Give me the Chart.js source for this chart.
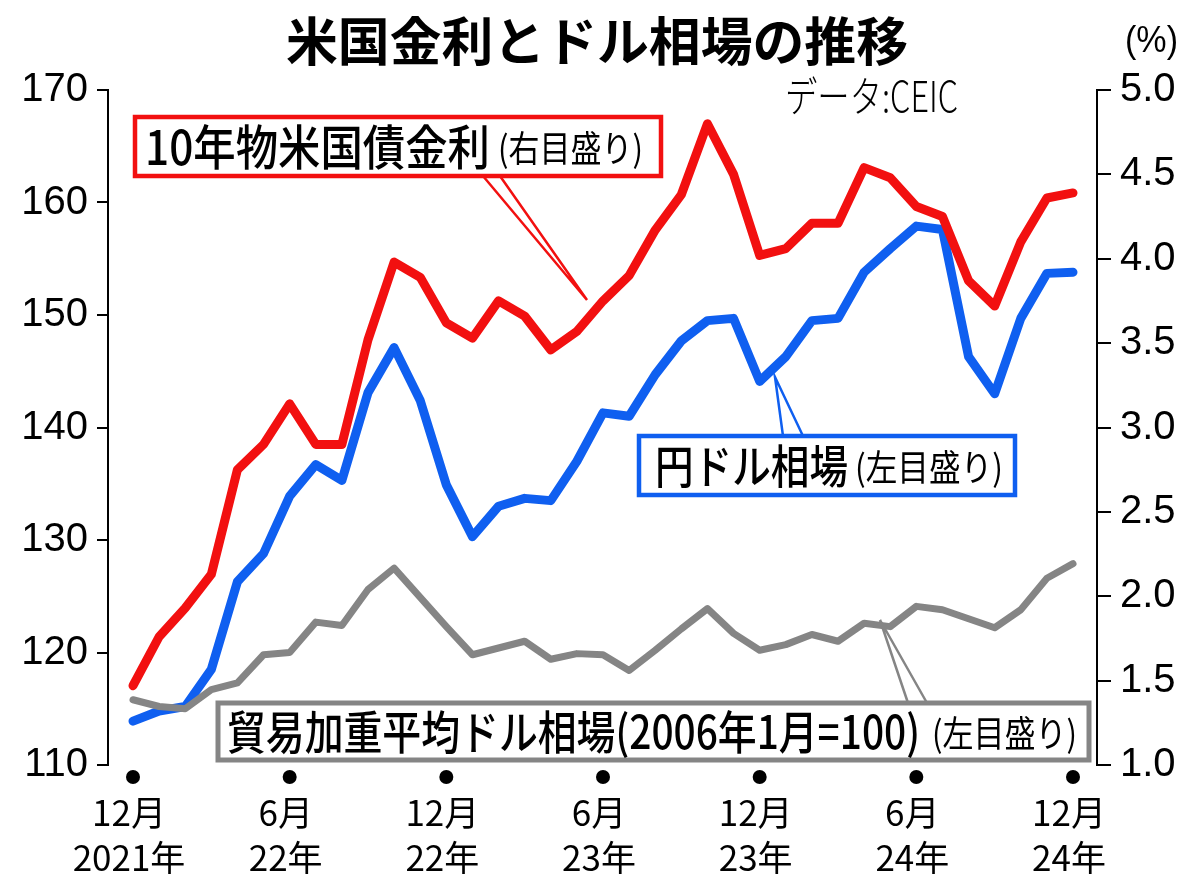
<!DOCTYPE html>
<html><head><meta charset="utf-8">
<script src="https://cdn.jsdelivr.net/npm/chart.js@4.4.1/dist/chart.umd.min.js"></script>
<style>html,body{margin:0;padding:0;background:#fff;}#wrap{width:1200px;height:888px;}</style>
</head><body><div id="wrap"><canvas id="c" width="1200" height="888"></canvas></div>
<script>
const categories = ['2021-12','2022-01','2022-02','2022-03','2022-04','2022-05','2022-06','2022-07','2022-08','2022-09','2022-10','2022-11','2022-12','2023-01','2023-02','2023-03','2023-04','2023-05','2023-06','2023-07','2023-08','2023-09','2023-10','2023-11','2023-12','2024-01','2024-02','2024-03','2024-04','2024-05','2024-06','2024-07','2024-08','2024-09','2024-10','2024-11','2024-12'];
const treasury10y = [1.47,1.76,1.93,2.13,2.75,2.90,3.14,2.90,2.90,3.52,3.98,3.89,3.62,3.53,3.75,3.66,3.46,3.57,3.75,3.90,4.17,4.38,4.80,4.50,4.02,4.06,4.21,4.21,4.54,4.48,4.31,4.25,3.87,3.72,4.10,4.36,4.39];
const usdJpy = [113.9,114.8,115.2,118.5,126.3,128.8,133.9,136.7,135.3,143.1,147.1,142.4,134.9,130.3,133.0,133.7,133.5,137.0,141.3,141.0,144.7,147.7,149.5,149.7,144.1,146.3,149.5,149.7,153.8,155.9,157.9,157.6,146.3,143.0,149.7,153.7,153.8];
const tradeWeightedUsd = [115.8,115.2,115.0,116.7,117.3,119.8,120.0,122.7,122.4,125.6,127.5,124.9,122.3,119.8,120.4,121.0,119.4,119.9,119.8,118.4,120.2,122.1,123.9,121.7,120.2,120.7,121.6,121.0,122.6,122.3,124.1,123.8,123.0,122.2,123.8,126.6,127.9];
const tickIndex = [0,6,12,18,24,30,36];
const tickMonths = ['12月','6月','12月','6月','12月','6月','12月'];
const tickYears = ['2021年','22年','22年','23年','23年','24年','24年'];
const leftTicks = [110,120,130,140,150,160,170];
const rightTicks = [1.0,1.5,2.0,2.5,3.0,3.5,4.0,4.5,5.0];

const RED = '#f21010', BLUE = '#0f5ff0', GRAY = '#858585';
const CJK = "'Noto Sans CJK JP','Noto Sans CJK SC',sans-serif";
const SANS = "'Liberation Sans','Noto Sans CJK JP',sans-serif";

function toXY(arr){ return arr.map((v,i)=>({x:i, y:v})); }

function fitText(ctx, txt, x, y, font, w){
  ctx.save();
  ctx.font = font;
  const m = ctx.measureText(txt).width;
  const s = w / m;
  ctx.translate(x, y);
  ctx.scale(s, 1);
  ctx.textAlign = 'left';
  ctx.textBaseline = 'middle';
  ctx.fillStyle = '#000';
  ctx.fillText(txt, 0, 0);
  ctx.restore();
}

function callout(ctx, color, lw, box, b1, b2, tip){
  ctx.save();
  ctx.lineJoin = 'miter';
  ctx.fillStyle = '#fff';
  ctx.strokeStyle = color;
  ctx.lineWidth = 2.5;
  ctx.beginPath(); ctx.moveTo(b1[0],b1[1]); ctx.lineTo(tip[0],tip[1]); ctx.lineTo(b2[0],b2[1]); ctx.closePath(); ctx.fill();
  ctx.beginPath(); ctx.moveTo(b1[0],b1[1]); ctx.lineTo(tip[0],tip[1]); ctx.lineTo(b2[0],b2[1]); ctx.stroke();
  ctx.lineWidth = lw;
  ctx.fillRect(box[0],box[1],box[2],box[3]);
  ctx.strokeRect(box[0],box[1],box[2],box[3]);
  ctx.restore();
}

const decor = {
  id:'decor',
  afterDatasetsDraw(chart){
    const ctx = chart.ctx;
    callout(ctx, RED, 4.5, [135,117,526,59], [483,176], [500,176], [587,300]);
    fitText(ctx, '10年物米国債金利', 145, 147, '500 48px '+CJK, 345);
    fitText(ctx, '(右目盛り)', 498, 148, '400 36px '+CJK, 145);
    callout(ctx, BLUE, 4.5, [639,436,376,59], [783,436], [803,436], [775,377]);
    fitText(ctx, '円ドル相場', 655, 466, '500 46px '+CJK, 193);
    fitText(ctx, '(左目盛り)', 855, 467, '400 36px '+CJK, 148);
    callout(ctx, GRAY, 5, [218,703,871,57], [908,703], [927,703], [880,620]);
    fitText(ctx, '貿易加重平均ドル相場(2006年1月=100)', 227, 732, '500 46px '+CJK, 693);
    fitText(ctx, '(左目盛り)', 932, 733, '400 36px '+CJK, 145);
  },
  afterDraw(chart){
    const ctx = chart.ctx;
    const xs = chart.scales.x;
    ctx.save();
    ctx.fillStyle = '#000';
    tickIndex.forEach(v=>{
      ctx.beginPath(); ctx.arc(xs.getPixelForValue(v), 777, 7, 0, Math.PI*2); ctx.fill();
    });
    ctx.restore();
    fitText(ctx, '米国金利とドル相場の推移', 286, 41, 'bold 52px '+CJK, 622);
    fitText(ctx, '(%)', 1125, 42, '400 36px '+SANS, 53);
    fitText(ctx, 'データ:CEIC', 785, 96, '300 42px '+CJK, 173);
  }
};

new Chart(document.getElementById('c'), {
  type:'line',
  data:{
    datasets:[
      {label:'10年物米国債金利', data:toXY(treasury10y), yAxisID:'y2', borderColor:RED, borderWidth:9},
      {label:'貿易加重平均ドル相場', data:toXY(tradeWeightedUsd), yAxisID:'y', borderColor:GRAY, borderWidth:7},
      {label:'円ドル相場', data:toXY(usdJpy), yAxisID:'y', borderColor:BLUE, borderWidth:9}
    ]
  },
  options:{
    responsive:false, devicePixelRatio:1, animation:false,
    layout:{padding:{top:90,left:0,right:0,bottom:0}},
    plugins:{legend:{display:false}, tooltip:{enabled:false}, title:{display:false}},
    elements:{point:{radius:0}, line:{tension:0, borderCapStyle:'round', borderJoinStyle:'round', fill:false}},
    scales:{
      x:{type:'linear', position:'bottom', min:-0.9574, max:36.919,
        afterBuildTicks:s=>{ s.ticks = tickIndex.map(v=>({value:v})); },
        afterFit:s=>{ s.height = 123; },
        grid:{display:false, drawTicks:false}, border:{display:false},
        ticks:{autoSkip:false, maxRotation:0, minRotation:0, padding:25, labelOffset:-4, color:'#000',
          font:{family:CJK, size:35, lineHeight:'45px'},
          callback:(v,i)=>[tickMonths[i], tickYears[i]]}
      },
      y:{position:'left', min:leftTicks[0], max:leftTicks[leftTicks.length-1],
        afterFit:s=>{ s.width = 108; },
        afterBuildTicks:s=>{ s.ticks = leftTicks.map(v=>({value:v})); },
        ticks:{padding:9, color:'#000', font:{family:SANS, size:40}},
        grid:{drawOnChartArea:false, tickLength:11, color:'#000', lineWidth:2},
        border:{display:true, color:'#000', width:2}
      },
      y2:{position:'right', min:rightTicks[0], max:rightTicks[rightTicks.length-1],
        afterFit:s=>{ s.width = 103; },
        afterBuildTicks:s=>{ s.ticks = rightTicks.map(v=>({value:v})); },
        ticks:{padding:9, color:'#000', font:{family:SANS, size:40}, callback:v=>Number(v).toFixed(1)},
        grid:{drawOnChartArea:false, tickLength:14, color:'#000', lineWidth:2},
        border:{display:true, color:'#000', width:2}
      }
    }
  },
  plugins:[decor]
});
</script>
</body></html>
